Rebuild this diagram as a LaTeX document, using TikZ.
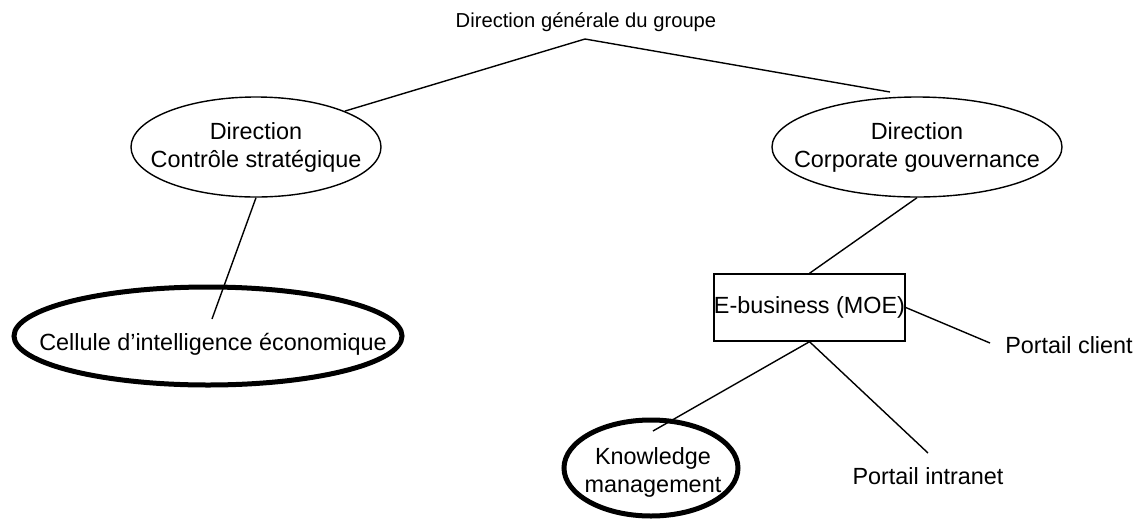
\documentclass[tikz,border=0pt]{standalone}
\usepackage{fontspec}
\setmainfont{Liberation Sans}
\usetikzlibrary{shapes.geometric}

\begin{document}
\begin{tikzpicture}[x=0.5pt, y=-0.5pt]
      \tikzstyle{oval}=[ellipse, draw=black, line width=0.7pt, inner sep=0pt]
      \tikzstyle{boldoval}=[ellipse, draw=black, line width=2.5pt, inner sep=0pt]
      \tikzstyle{txt}=[align=center, inner sep=0pt, font=\fontsize{11.7pt}{14pt}\selectfont]
      \tikzstyle{box}=[rectangle, draw=black, line width=0.7pt, inner xsep=0pt, minimum height=33.5pt, font=\fontsize{11.7pt}{14pt}\selectfont]
      \tikzstyle{title}=[inner sep=0pt, font=\fontsize{10.1pt}{12pt}\selectfont]
      \tikzstyle{connect}=[line width=0.7pt]

      \useasboundingbox (0,0) rectangle (1137,521);

      \node[title, anchor=base] (groupe) at (586,27) {Direction générale du groupe};

      \node[oval, minimum width=125pt, minimum height=50pt] (ctrl) at (256,147) {};
      \node[txt] (ctrltxt) at (ctrl) {Direction\\Contrôle stratégique};

      \node[oval, minimum width=145pt, minimum height=50pt] (gouv) at (917,147) {};
      \node[txt] (gouvtxt) at (gouv) {Direction\\Corporate gouvernance};

      \node[boldoval, minimum width=194pt, minimum height=49pt] (cellule) at (208,336) {};
      \node[txt, anchor=base] (celltxt) at (213,350) {Cellule d’intelligence économique};

      \node[box] (ebiz) at (809.5,307.5) {E-business (MOE)};

      \node[boldoval, minimum width=87pt, minimum height=48pt] (km) at (651,468) {};
      \node[txt] (kmtxt) at (653,472) {Knowledge\\management};

      \node[txt, anchor=base] (client) at (1069,353) {Portail client};
      \node[txt, anchor=base] (intranet) at (928,484) {Portail intranet};

      \coordinate (apex) at (585,39);
      \coordinate (gouvtop) at (890,92);
      \coordinate (cellin) at (212,319);
      \coordinate (kmin) at (653,431);
      \coordinate (clientend) at (990,343);
      \coordinate (intraend) at (928,453);

      \path (apex) edge [connect] (ctrl.22)
            (apex) edge [connect] (gouvtop);

      \path (ctrl.south) edge [connect] (cellin);

      \path (gouv.south) edge [connect] (ebiz.north)
            (ebiz.east) edge [connect] (clientend)
            (ebiz.south) edge [connect] (kmin)
            (ebiz.south) edge [connect] (intraend);
\end{tikzpicture}
\end{document}
